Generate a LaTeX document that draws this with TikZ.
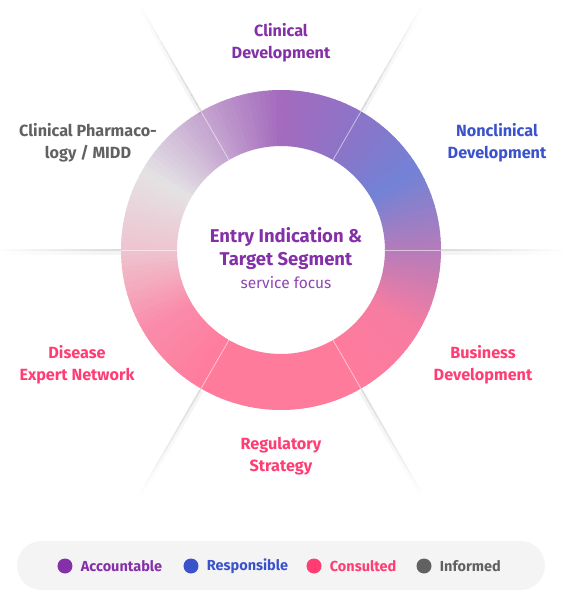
\documentclass[tikz,border=0pt]{standalone}
\usepackage{fontspec}
\setmainfont{Fira Sans}
\usetikzlibrary{positioning}

% role colours
\definecolor{acccol}{HTML}{8430A8}
\definecolor{rescol}{HTML}{3A52CC}
\definecolor{concol}{HTML}{FF3D73}
\definecolor{infcol}{HTML}{616161}
\definecolor{pillcol}{HTML}{F4F4F4}
% ring colour stops, every 30 degrees
\definecolor{rA}{HTML}{B47CBA}
\definecolor{rB}{HTML}{7282D6}
\definecolor{rC}{HTML}{8C74C8}
\definecolor{rD}{HTML}{A46ABD}
\definecolor{rE}{HTML}{C4A4D0}
\definecolor{rF}{HTML}{E4E2E4}
\definecolor{rG}{HTML}{EEC4D0}
\definecolor{rH}{HTML}{FA8CAA}
\definecolor{rI}{HTML}{FF7B9C}
\definecolor{rJ}{HTML}{FF7B9C}
\definecolor{rK}{HTML}{FF7B9C}
\definecolor{rL}{HTML}{F67CA2}

\tikzset{
  rolelabel/.style={font=\fontsize{16.2}{22}\selectfont\bfseries, align=center},
  legenddot/.style={circle, minimum size=15pt, inner sep=0pt},
  legendtext/.style={font=\fontsize{14.5}{16}\selectfont\bfseries, inner sep=0pt}
}

\begin{document}
\begin{tikzpicture}[x=1pt,y=1pt]
        \useasboundingbox (-281,-341) rectangle (281,250);

        % Ring, built from thin wedges
        \foreach \a/\ca/\cb in {0/rA/rB,30/rB/rC,60/rC/rD,90/rD/rE,120/rE/rF,150/rF/rG,
                                180/rG/rH,210/rH/rI,240/rI/rJ,270/rJ/rK,300/rK/rL,330/rL/rA} {
          \foreach \i in {0,...,14} {
            \pgfmathtruncatemacro\p{\i*100/15+3}
            \pgfmathsetmacro\s{\a+2*\i}
            \pgfmathsetmacro\e{\s+2.3}
            \fill[\cb!\p!\ca] (\s:104) arc[start angle=\s,end angle=\e,radius=104]
              -- (\e:160) arc[start angle=\e,end angle=\s,radius=160] -- cycle;
          }
        }

        % Dividers between the six roles
        \foreach \ang in {0,60,...,300} {
          \draw[white,opacity=0.55,line width=0.8pt] (\ang:104) -- (\ang:160);
          \foreach \k in {0,...,11} {
            \pgfmathsetmacro\o{0.9-0.075*\k}
            \draw[black,opacity=\o*0.05,line width=5pt] ([yshift=-2.5pt]\ang:160+10*\k) -- ([yshift=-2.5pt]\ang:170+10*\k);
            \draw[gray!30,opacity=\o,line width=1.4pt] (\ang:160+10*\k) -- (\ang:170+10*\k);
          }
        }

        % Centre text
        \node[font=\fontsize{18.5}{23}\selectfont\bfseries, align=center, text=acccol] (focus) at (5,1.5)
          {Entry Indication \&\\Target Segment};
        \node[font=\fontsize{15.5}{17}\selectfont, text=acccol!90] (service) at (5,-33) {service focus};

        % Role labels
        \node[rolelabel, text=acccol] (clindev) at (0,207) {Clinical\\Development};
        \node[rolelabel, text=rescol] (nonclin) at (216,107.5) {Nonclinical\\Development};
        \node[rolelabel, text=concol] (busdev) at (202,-115) {Business\\Development};
        \node[rolelabel, text=concol] (regstrat) at (0,-206) {Regulatory\\Strategy};
        \node[rolelabel, text=concol] (disease) at (-204,-115) {Disease\\Expert Network};
        \node[rolelabel, text=infcol] (clinpharm) at (-193,107.5) {Clinical Pharmaco-\\logy / MIDD};

        % Legend
        \fill[pillcol, rounded corners=24.5pt] (-264,-291) rectangle (264,-340);
        \node[legenddot, fill=acccol] (dotacc) at (-216,-316) {};
        \node[legendtext, text=acccol, right=8pt of dotacc] (txtacc) {Accountable};
        \node[legenddot, fill=rescol] (dotres) at (-90,-316) {};
        \node[legendtext, text=rescol, right=8pt of dotres] (txtres) {Responsible};
        \node[legenddot, fill=concol] (dotcon) at (33,-316) {};
        \node[legendtext, text=concol, right=8pt of dotcon] (txtcon) {Consulted};
        \node[legenddot, fill=infcol] (dotinf) at (143,-316) {};
        \node[legendtext, text=infcol, right=8pt of dotinf] (txtinf) {Informed};
\end{tikzpicture}
\end{document}
